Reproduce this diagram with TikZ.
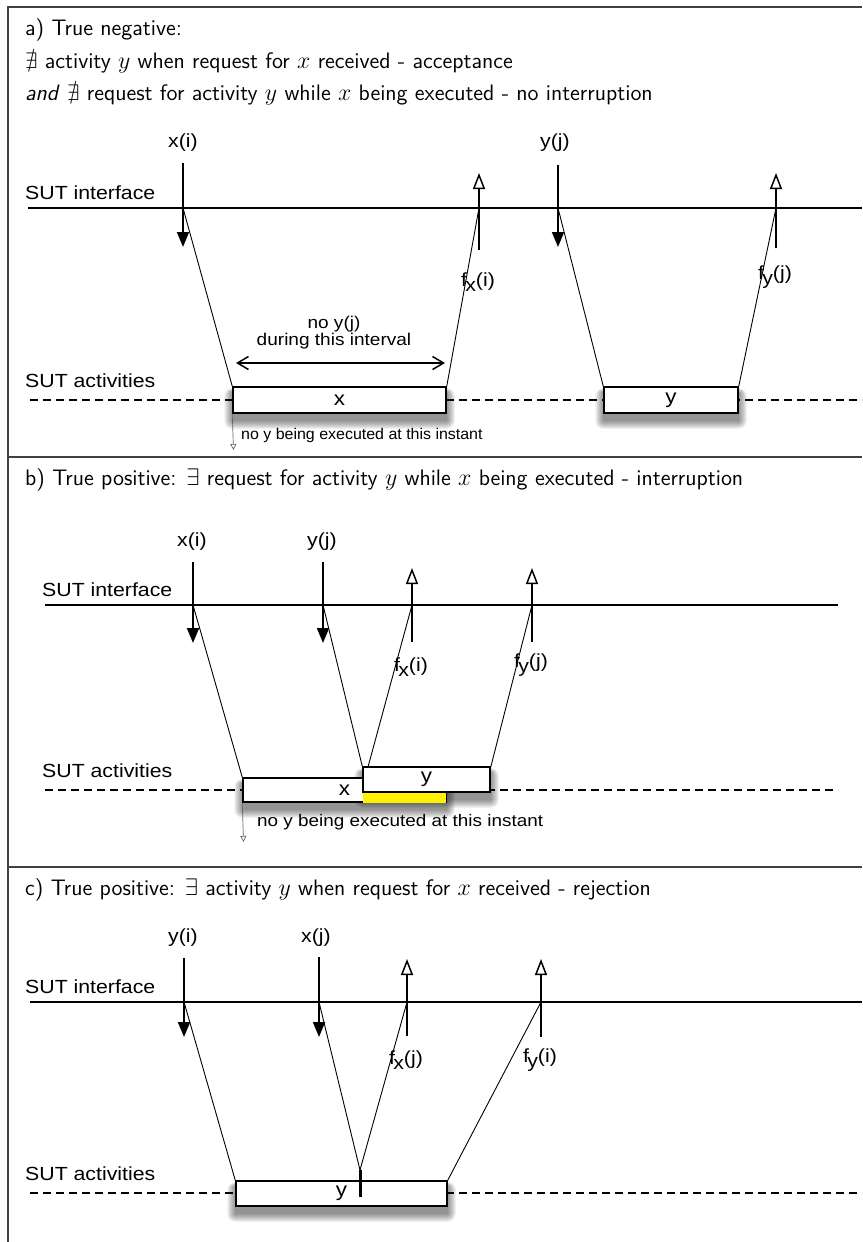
\documentclass[tikz,border=0pt]{standalone}
\usepackage{fontspec}
\usepackage{amssymb}
\usepackage{graphicx}
\newfontfamily\hel{Liberation Sans}
\usetikzlibrary{arrows.meta,calc}
\pgfdeclarelayer{bg}
\pgfsetlayers{bg,main}
\newcommand\hs[1]{\scalebox{1.12}[1]{#1}}
\newcommand\ttlsc[1]{\scalebox{1.66}{#1}}
\newcommand\fsub[2]{\hs{f\kern-1.5pt\raisebox{-5pt}{#1}(#2)}}
\tikzset{
  ttl/.style={anchor=base west, inner sep=0pt, font=\sffamily\fontsize{13.5}{16}\selectfont},
  lbl/.style={inner sep=0pt, font=\hel\fontsize{19}{21}\selectfont},
  side/.style={anchor=base west, inner sep=0pt, font=\hel\fontsize{19}{21}\selectfont},
  note/.style={inner sep=0pt, font=\hel\fontsize{17}{20}\selectfont, align=center},
  small/.style={anchor=base west, inner sep=0pt, font=\hel\fontsize{15.5}{18}\selectfont},
  frame/.style={draw=black!75, line width=1.2pt},
  iface/.style={line width=1.8pt},
  dline/.style={line width=1.4pt, dash pattern=on 8pt off 5pt},
  req/.style={line width=1.8pt, -{Triangle[length=15pt,width=12pt]}},
  ret/.style={line width=1.8pt, -{Triangle[open,length=16pt,width=12pt,line width=1.5pt]}},
  diag/.style={line width=0.9pt},
  box/.style={draw, line width=1.5pt, fill=white, inner sep=0pt, font=\hel\fontsize{20}{22}\selectfont},
  tiny/.style={draw=black!60, line width=0.7pt, -{Triangle[open,length=6pt,width=6pt]}},
  both/.style={line width=1.5pt, {Straight Barb[length=11pt,width=13pt]}-{Straight Barb[length=11pt,width=13pt]}},
}
\newcommand\shadowof[1]{%
  \begin{pgfonlayer}{bg}
  \foreach \k in {0,...,8}{%
    \fill[black, opacity=0.06, rounded corners=\k pt]
      ([xshift=-\k pt, yshift=0.5*\k pt-6pt]#1.north west) rectangle
      ([xshift=\k pt, yshift=-\k pt-7pt]#1.south east);
  }
  \end{pgfonlayer}}
\begin{document}
\begin{tikzpicture}[x=1pt,y=-1pt]
\useasboundingbox (0,0) rectangle (862,1242);
% frames
\coordinate (ftl) at (8,7); \coordinate (ftr) at (862,7); \coordinate (fbl) at (8,1242);
\coordinate (s1l) at (8,457); \coordinate (s1r) at (862,457);
\coordinate (s2l) at (8,867); \coordinate (s2r) at (862,867);
\draw[frame] (ftr) -- (ftl) -- (fbl);
\draw[frame] (s1l) -- (s1r);
\draw[frame] (s2l) -- (s2r);

%%%%%%%%%%%%%%%% panel a
\node[ttl] (ta1) at (25,35) {\ttlsc{a) True negative:}};
\node[ttl] (ta2) at (25,68) {\ttlsc{$\nexists$ activity $y$ when request for $x$ received - acceptance}};
\node[ttl] (ta3) at (25,100) {\ttlsc{\textit{and} $\nexists$ request for activity $y$ while $x$ being executed - no interruption}};

\coordinate (ia1) at (28,208); \coordinate (ia2) at (862,208);
\draw[iface] (ia1) -- (ia2);
\node[side] (sia) at (25,199) {\hs{SUT interface}};
\coordinate (da1) at (30,400); \coordinate (da2) at (862,400);
\draw[dline] (da1) -- (da2);
\node[side] (saa) at (25,387) {\hs{SUT activities}};

\node[box, minimum width=213pt, minimum height=26pt] (bxa) at (339.5,400) {\hs{x}};
\node[box, minimum width=134pt, minimum height=26pt] (bya) at (671,400) {\hs{y}};
\shadowof{bxa}\shadowof{bya}

\node[lbl] (lxa) at (183,143) {\hs{x(i)}};
\coordinate (rxa0) at (183,163); \coordinate (rxa1) at (183,247); \coordinate (cxa) at (183,208);
\draw[req] (rxa0) -- (rxa1);
\draw[diag] (cxa) -- (bxa.north west);
\coordinate (fxa0) at (479,250); \coordinate (fxa1) at (479,173); \coordinate (cfxa) at (479,208);
\draw[ret] (fxa0) -- (fxa1);
\draw[diag] (bxa.north east) -- (cfxa);
\node[lbl] (lfxa) at (478,282) {\fsub{x}{i}};

\node[lbl] (lya) at (555,143) {\hs{y(j)}};
\coordinate (rya0) at (558,165); \coordinate (rya1) at (558,247); \coordinate (cya) at (558,208);
\draw[req] (rya0) -- (rya1);
\draw[diag] (cya) -- (bya.north west);
\coordinate (fya0) at (776,248); \coordinate (fya1) at (776,173); \coordinate (cfya) at (776,208);
\draw[ret] (fya0) -- (fya1);
\draw[diag] (bya.north east) -- (cfya);
\node[lbl] (lfya) at (775,277) {\fsub{y}{j}};

\node[note] (nia) at (334,333) {\hs{no y(j)}\\[-3pt]\hs{during this interval}};
\coordinate (dia1) at (236,363); \coordinate (dia2) at (445,363);
\draw[both] (dia1) -- (dia2);
\coordinate (tia0) at ($(bxa.south west)$); \coordinate (tia1) at (233.5,450);
\draw[tiny] (tia0) -- (tia1);
\node[small] (nba) at (241,439) {\scalebox{1.03}[1]{no y being executed at this instant}};

%%%%%%%%%%%%%%%% panel b
\node[ttl] (tb1) at (25,485) {\ttlsc{b) True positive: $\exists$ request for activity $y$ while $x$ being executed - interruption}};
\coordinate (ib1) at (45,605); \coordinate (ib2) at (838,605);
\draw[iface] (ib1) -- (ib2);
\node[side] (sib) at (42,596) {\hs{SUT interface}};
\coordinate (db1) at (45,790); \coordinate (db2) at (838,790);
\draw[dline] (db1) -- (db2);
\node[side] (sab) at (42,777) {\hs{SUT activities}};

\node[box, minimum width=203pt, minimum height=24pt] (bxb) at (344.5,790) {\hs{x}};
\coordinate (yl1) at (363,792); \coordinate (yl2) at (446,802.6);
\fill[yellow] (yl1) rectangle (yl2);
\node[box, minimum width=127pt, minimum height=25pt] (byb) at (426.5,779.5) {\hs{y}};
\shadowof{bxb}\shadowof{byb}

\node[lbl] (lxb) at (192,542) {\hs{x(i)}};
\coordinate (rxb0) at (193,562); \coordinate (rxb1) at (193,643); \coordinate (cxb) at (193,605);
\draw[req] (rxb0) -- (rxb1);
\draw[diag] (cxb) -- (bxb.north west);
\node[lbl] (lyb) at (322,542) {\hs{y(j)}};
\coordinate (ryb0) at (323,562); \coordinate (ryb1) at (323,643); \coordinate (cyb) at (323,605);
\draw[req] (ryb0) -- (ryb1);
\draw[diag] (cyb) -- (byb.north west);
\coordinate (fxb0) at (412,642); \coordinate (fxb1) at (412,568); \coordinate (cfxb) at (412,605);
\coordinate (sfxb) at (368,767);
\draw[ret] (fxb0) -- (fxb1);
\draw[diag] (sfxb) -- (cfxb);
\node[lbl] (lfxb) at (411,667) {\fsub{x}{i}};
\coordinate (fyb0) at (532,642); \coordinate (fyb1) at (532,568); \coordinate (cfyb) at (532,605);
\coordinate (sfyb) at (490,770);
\draw[ret] (fyb0) -- (fyb1);
\draw[diag] (sfyb) -- (cfyb);
\node[lbl] (lfyb) at (531,665) {\fsub{y}{j}};
\coordinate (tib0) at ($(bxb.south west)$); \coordinate (tib1) at (243.5,842);
\draw[tiny] (tib0) -- (tib1);
\node[small] (nbb) at (257,826) {\scalebox{1.22}[1.08]{no y being executed at this instant}};

%%%%%%%%%%%%%%%% panel c
\node[ttl] (tc1) at (25,895) {\ttlsc{c) True positive: $\exists$ activity $y$ when request for $x$ received - rejection}};
\coordinate (ic1) at (30,1002); \coordinate (ic2) at (862,1002);
\draw[iface] (ic1) -- (ic2);
\node[side] (sic) at (25,993) {\hs{SUT interface}};
\coordinate (dc1) at (30,1193); \coordinate (dc2) at (862,1193);
\draw[dline] (dc1) -- (dc2);
\node[side] (sac) at (25,1180) {\hs{SUT activities}};

\node[box, minimum width=211pt, minimum height=25pt] (byc) at (341.5,1193.5) {\hs{y}};
\shadowof{byc}
\coordinate (tk0) at (360,1170); \coordinate (tk1) at (360,1197);
\draw[line width=3pt] (tk0) -- (tk1);

\node[lbl] (lyc) at (183,938) {\hs{y(i)}};
\coordinate (ryc0) at (184,958); \coordinate (ryc1) at (184,1037); \coordinate (cyc) at (184,1002);
\draw[req] (ryc0) -- (ryc1);
\draw[diag] (cyc) -- (byc.north west);
\node[lbl] (lxc) at (316,938) {\hs{x(j)}};
\coordinate (rxc0) at (319,957); \coordinate (rxc1) at (319,1037); \coordinate (cxc) at (319,1002);
\draw[req] (rxc0) -- (rxc1);
\draw[diag] (cxc) -- (tk0);
\coordinate (fxc0) at (407,1036); \coordinate (fxc1) at (407,959); \coordinate (cfxc) at (407,1002);
\draw[ret] (fxc0) -- (fxc1);
\draw[diag] (tk0) -- (cfxc);
\node[lbl] (lfxc) at (406,1060) {\fsub{x}{j}};
\coordinate (fyc0) at (541,1037); \coordinate (fyc1) at (541,959); \coordinate (cfyc) at (541,1002);
\draw[ret] (fyc0) -- (fyc1);
\draw[diag] (byc.north east) -- (cfyc);
\node[lbl] (lfyc) at (540,1060) {\fsub{y}{i}};
\end{tikzpicture}
\end{document}
